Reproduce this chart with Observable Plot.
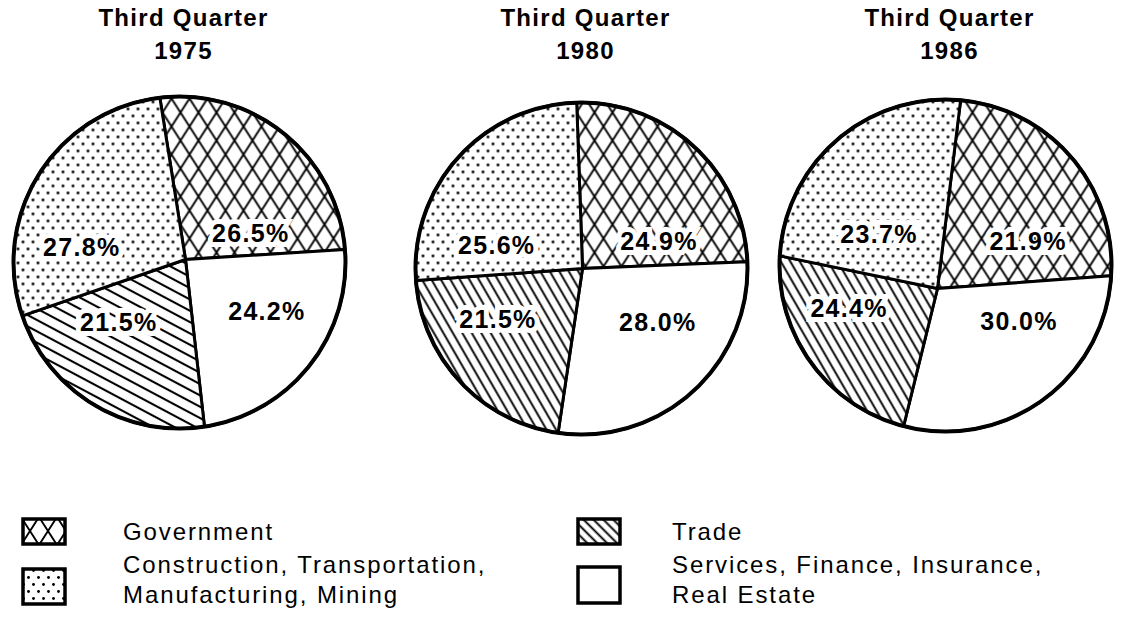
<!DOCTYPE html>
<html><head><meta charset="utf-8">
<script src="https://cdn.jsdelivr.net/npm/d3@7"></script>
<script src="https://cdn.jsdelivr.net/npm/@observablehq/plot@0.6"></script>
<style>
body{margin:0;background:#fff;font-family:"Liberation Sans",Arial,sans-serif;color:#000;}
#chart svg text{letter-spacing:1.3px;}
#legend{position:relative;width:1132px;height:155px;}
.sw{position:absolute;}
.lt{position:absolute;font-size:24px;line-height:30px;letter-spacing:1.9px;white-space:nowrap;}
</style></head><body>
<div id="chart"></div>
<div id="legend"></div>
<script>
// ---- data ----
const years = ["1975", "1980", "1986"];
const titlePrefix = "Third Quarter";
const categories = ["Government", "Services, Finance, Insurance, Real Estate", "Trade", "Construction, Transportation, Manufacturing, Mining"];
const share1975 = [26.5, 24.2, 21.5, 27.8];
const share1980 = [24.9, 28.0, 21.5, 25.6];
const share1986 = [21.9, 30.0, 24.4, 23.7];
const legendOrder = ["Government", "Trade", "Construction, Transportation, Manufacturing, Mining", "Services, Finance, Insurance, Real Estate"];
const legendLines = {
  "Government": ["Government"],
  "Trade": ["Trade"],
  "Construction, Transportation, Manufacturing, Mining": ["Construction, Transportation,", "Manufacturing, Mining"],
  "Services, Finance, Insurance, Real Estate": ["Services, Finance, Insurance,", "Real Estate"]
};

// ---- layout / style ----
const W = 1132, H = 470, R = 166;
const shares = [share1975, share1980, share1986];
// circle centre (cx, cy), point where the slice edges meet (jx, jy), rotation of first edge
const layout = [
  {cx: 179, cy: 262, jx: 185, jy: 259, rot: -9},
  {cx: 581, cy: 268, jx: 582, jy: 268, rot: -2},
  {cx: 945, cy: 265, jx: 937, jy: 288, rot: 7}
];
function fillFor(cat, yi, legend) {
  if (cat === "Government") return "url(#p-gov)";
  if (cat === "Trade") return legend ? "url(#p-trade-l)" : (yi === 0 ? "url(#p-trade-a)" : "url(#p-trade-b)");
  if (cat.startsWith("Construction")) return "url(#p-dots)";
  return "#fff";
}
const defs = `
<pattern id="p-gov" patternUnits="userSpaceOnUse" width="18" height="28">
  <rect width="18" height="28" fill="#fff"/>
  <path d="M-18,-28L36,56M36,-28L-18,56" stroke="#000" stroke-width="1.9" fill="none"/>
</pattern>
<pattern id="p-dots" patternUnits="userSpaceOnUse" width="10" height="14">
  <rect width="10" height="14" fill="#fff"/>
  <circle cx="2.5" cy="3.5" r="1.45" fill="#000"/><circle cx="7.5" cy="10.5" r="1.45" fill="#000"/>
</pattern>
<pattern id="p-trade-a" patternUnits="userSpaceOnUse" width="10" height="10" patternTransform="rotate(28)">
  <rect width="10" height="10" fill="#fff"/>
  <line x1="-1" y1="5" x2="11" y2="5" stroke="#000" stroke-width="2.1"/>
</pattern>
<pattern id="p-trade-b" patternUnits="userSpaceOnUse" width="10" height="8.2" patternTransform="rotate(60)">
  <rect width="10" height="8.2" fill="#fff"/>
  <line x1="-1" y1="4.1" x2="11" y2="4.1" stroke="#000" stroke-width="1.9"/>
</pattern>
<pattern id="p-trade-l" patternUnits="userSpaceOnUse" width="10" height="7" patternTransform="rotate(45)">
  <rect width="10" height="7" fill="#fff"/>
  <line x1="-1" y1="3.5" x2="11" y2="3.5" stroke="#000" stroke-width="1.9"/>
</pattern>`;

// angle on the circle (around its centre) where an edge leaving the junction at angle t meets the rim
function rimAngle(p, t) {
  const dx = Math.sin(t), dy = -Math.cos(t);
  const vx = p.jx - p.cx, vy = p.jy - p.cy;
  const b = dx * vx + dy * vy, c = vx * vx + vy * vy - R * R;
  const s = -b + Math.sqrt(b * b - c);
  const px = p.jx + s * dx, py = p.jy + s * dy;
  return Math.atan2(px - p.cx, -(py - p.cy));
}

// ---- build slices from data ----
const slices = [], labels = [], titles = [];
const fmt = d3.format(".1f");
years.forEach((yr, i) => {
  const p = layout[i];
  const a0 = p.rot * Math.PI / 180;
  const arcs = d3.pie().sort(null).startAngle(a0).endAngle(a0 + 2 * Math.PI)(shares[i]);
  arcs.forEach((a, j) => {
    const id = yr + "-" + j;
    const fill = fillFor(categories[j], i, false);
    let f0 = rimAngle(p, a.startAngle), f1 = rimAngle(p, a.endAngle);
    while (f1 <= f0) f1 += 2 * Math.PI;
    const n = Math.max(2, Math.ceil((f1 - f0) / (Math.PI / 360)));
    slices.push({id, fill, x: p.jx, y: p.jy});
    for (let k = 0; k <= n; k++) {
      const t = f0 + (f1 - f0) * k / n;
      slices.push({id, fill, x: p.cx + R * Math.sin(t), y: p.cy - R * Math.cos(t)});
    }
    slices.push({id, fill, x: p.jx, y: p.jy});
    const m = (a.startAngle + a.endAngle) / 2;
    labels.push({x: p.cx + 114 * Math.sin(m), y: p.cy + 14 - 55 * Math.cos(m), text: fmt(a.data) + "%"});
  });
  titles.push({x: p.cx + 4, text: titlePrefix + "\n" + yr});
});

const svg = Plot.plot({
  width: W, height: H, margin: 0,
  x: {domain: [0, W], axis: null},
  y: {domain: [0, H], reverse: true, axis: null},
  color: {type: "identity"},
  style: {fontFamily: "'Liberation Sans', Arial, sans-serif", background: "#fff", overflow: "visible"},
  marks: [
    Plot.line(slices, {x: "x", y: "y", z: "id", fill: "fill", stroke: "#000", strokeWidth: 3, strokeLinejoin: "round", curve: "linear"}),
    Plot.dot(layout, {x: "cx", y: "cy", r: R, stroke: "#000", strokeWidth: 4, fill: "none"}),
    Plot.text(labels, {x: "x", y: "y", text: "text", fontSize: 25, fontWeight: "bold", fill: "#000", stroke: "#fff", strokeWidth: 10, strokeLinejoin: "miter", paintOrder: "stroke"}),
    Plot.text(titles, {x: "x", y: () => 2, text: "text", lineAnchor: "top", lineHeight: 1.38, fontSize: 24, fontWeight: "bold", fill: "#000"})
  ]
});
d3.select(svg).insert("defs", ":first-child").html(defs);
document.getElementById("chart").appendChild(svg);

// ---- legend ----
const legendPos = [
  {sx: 22, sy: 48, sh: 27, tx: 123, ty: 47},
  {sx: 577, sy: 48, sh: 27, tx: 672, ty: 47},
  {sx: 22, sy: 98, sh: 37, tx: 123, ty: 80},
  {sx: 577, sy: 96, sh: 38, tx: 672, ty: 80}
];
const leg = document.getElementById("legend");
legendOrder.forEach((cat, i) => {
  const q = legendPos[i];
  const s = document.createElementNS("http://www.w3.org/2000/svg", "svg");
  s.setAttribute("class", "sw");
  s.setAttribute("width", 46); s.setAttribute("height", q.sh + 2);
  s.style.left = (q.sx - 1) + "px"; s.style.top = (q.sy - 1) + "px";
  s.innerHTML = `<rect x="2" y="2" width="42" height="${q.sh - 2}" fill="${fillFor(cat, 0, true)}" stroke="#000" stroke-width="3.5"/>`;
  leg.appendChild(s);
  const t = document.createElement("div");
  t.className = "lt";
  t.style.left = q.tx + "px"; t.style.top = q.ty + "px";
  t.innerHTML = legendLines[cat].join("<br>");
  leg.appendChild(t);
});
</script>
</body></html>
